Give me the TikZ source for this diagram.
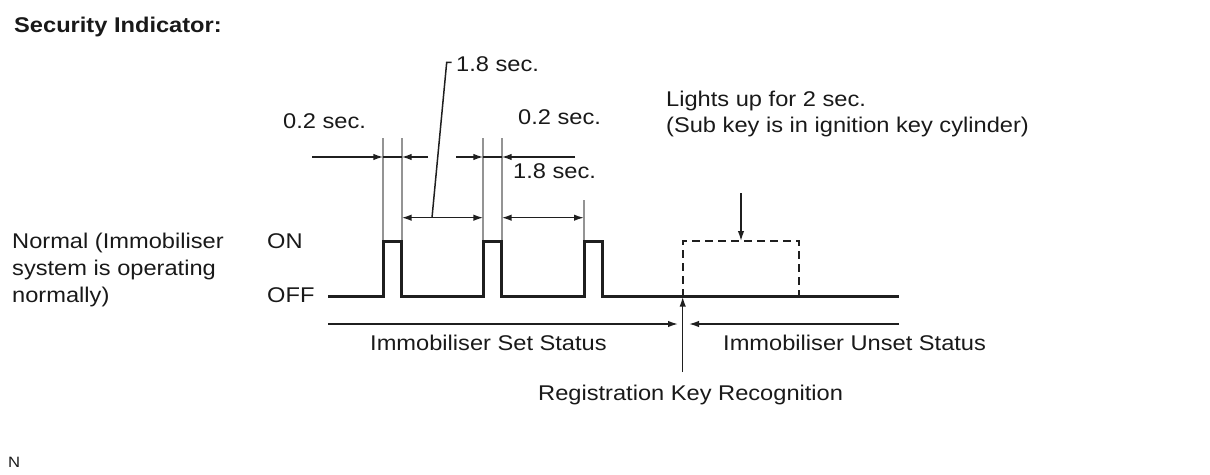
\documentclass[tikz,border=0pt]{standalone}
\usepackage{fontspec}
\setmainfont[FakeStretch=1.11]{Liberation Sans}
\usetikzlibrary{arrows.meta}
\begin{document}
\begin{tikzpicture}[x=1pt,y=-1pt,
  lbl/.style={anchor=base west,inner sep=0pt,text=black!90,font=\fontsize{21.3}{27}\selectfont},
  signal/.style={line width=3pt,black!88,line join=miter},
  ext/.style={line width=2.2pt,black!42},
  dim/.style={line width=1.5pt,black!88},
  tip/.style={-{Latex[length=10pt,width=6.5pt]}},
  dashbox/.style={line width=2.2pt,black!88,dash pattern=on 8pt off 5pt}]
\useasboundingbox (0,0) rectangle (1210,474);
% key coordinates
\coordinate (b0) at (328,296.7);
\coordinate (r1) at (383.3,296.7); \coordinate (f1) at (401.7,296.7);
\coordinate (r2) at (483.3,296.7); \coordinate (f2) at (501.7,296.7);
\coordinate (r3) at (584,296.7);   \coordinate (f3) at (602,296.7);
\coordinate (bend) at (899,296.7);
\coordinate (rk) at (682.7,296.7);
\coordinate (dk) at (799,296.7);
% texts
\node[lbl,font=\fontsize{21.3}{27}\selectfont\bfseries] (title) at (14,32) {Security Indicator:};
\node[lbl] (t02a) at (283,128) {0.2 sec.};
\node[lbl] (t18a) at (456,71) {1.8 sec.};
\node[lbl] (t02b) at (518,124) {0.2 sec.};
\node[lbl] (t18b) at (513,178) {1.8 sec.};
\node[lbl] (light1) at (666,106) {Lights up for 2 sec.};
\node[lbl] (light2) at (666,132) {(Sub key is in ignition key cylinder)};
\node[lbl] (n1) at (12,248) {Normal (Immobiliser};
\node[lbl] (n2) at (12,275) {system is operating};
\node[lbl] (n3) at (12,302) {normally)};
\node[lbl] (on) at (267,248) {ON};
\node[lbl] (off) at (267,302) {OFF};
\node[lbl] (set) at (370,350) {Immobiliser Set Status};
\node[lbl] (unset) at (723,350) {Immobiliser Unset Status};
\node[lbl] (reg) at (538,400) {Registration Key Recognition};
\node[lbl,font=\fontsize{15}{18}\selectfont] (nn) at (8,467) {N};
% extension lines
\foreach \p/\t in {r1/138,f1/138,r2/138,f2/138,r3/200}
  \draw[ext] (\p |- 0,\t) -- (\p |- 0,241.7);
% signal
\draw[signal] (b0) -- (r1) -- ++(0,-55) -| (f1) -- (r2) -- ++(0,-55) -| (f2) -- (r3) -- ++(0,-55) -| (f3) -- (bend);
% dashed pulse
\draw[dashbox] (rk) -- ++(0,-55.7) -| (dk);
% 0.2 sec dimensions
\draw[dim,tip] (312,157) -- (r1 |- 0,157);
\draw[dim] (r1 |- 0,157) -- (f1 |- 0,157);
\draw[dim,tip] (428,157) -- (f1 |- 0,157);
\draw[dim,tip] (456,157) -- (r2 |- 0,157);
\draw[dim] (r2 |- 0,157) -- (f2 |- 0,157);
\draw[dim,tip] (575,157) -- (f2 |- 0,157);
% 1.8 sec dimensions
\draw[dim,{Latex[length=10pt,width=6.5pt]}-{Latex[length=10pt,width=6.5pt]}] (f1 |- 0,217.7) -- (r2 |- 0,217.7);
\draw[dim,{Latex[length=10pt,width=6.5pt]}-{Latex[length=10pt,width=6.5pt]}] (f2 |- 0,217.7) -- (r3 |- 0,217.7);
% leader to top 1.8 sec
\coordinate (ld) at (432,217.7);
\draw[dim] (ld) -- (446.7,62.3) -- (451.7,62.3);
% arrow to dashed pulse
\draw[dim,tip] (741,193) -- (741,241);
% status arrows
\draw[dim,tip] (b0 |- 0,324) -- (678,324);
\draw[dim,tip] (bend |- 0,324) -- (689,324);
\draw[dim,tip] (rk |- 0,372) -- (rk);
\end{tikzpicture}
\end{document}
